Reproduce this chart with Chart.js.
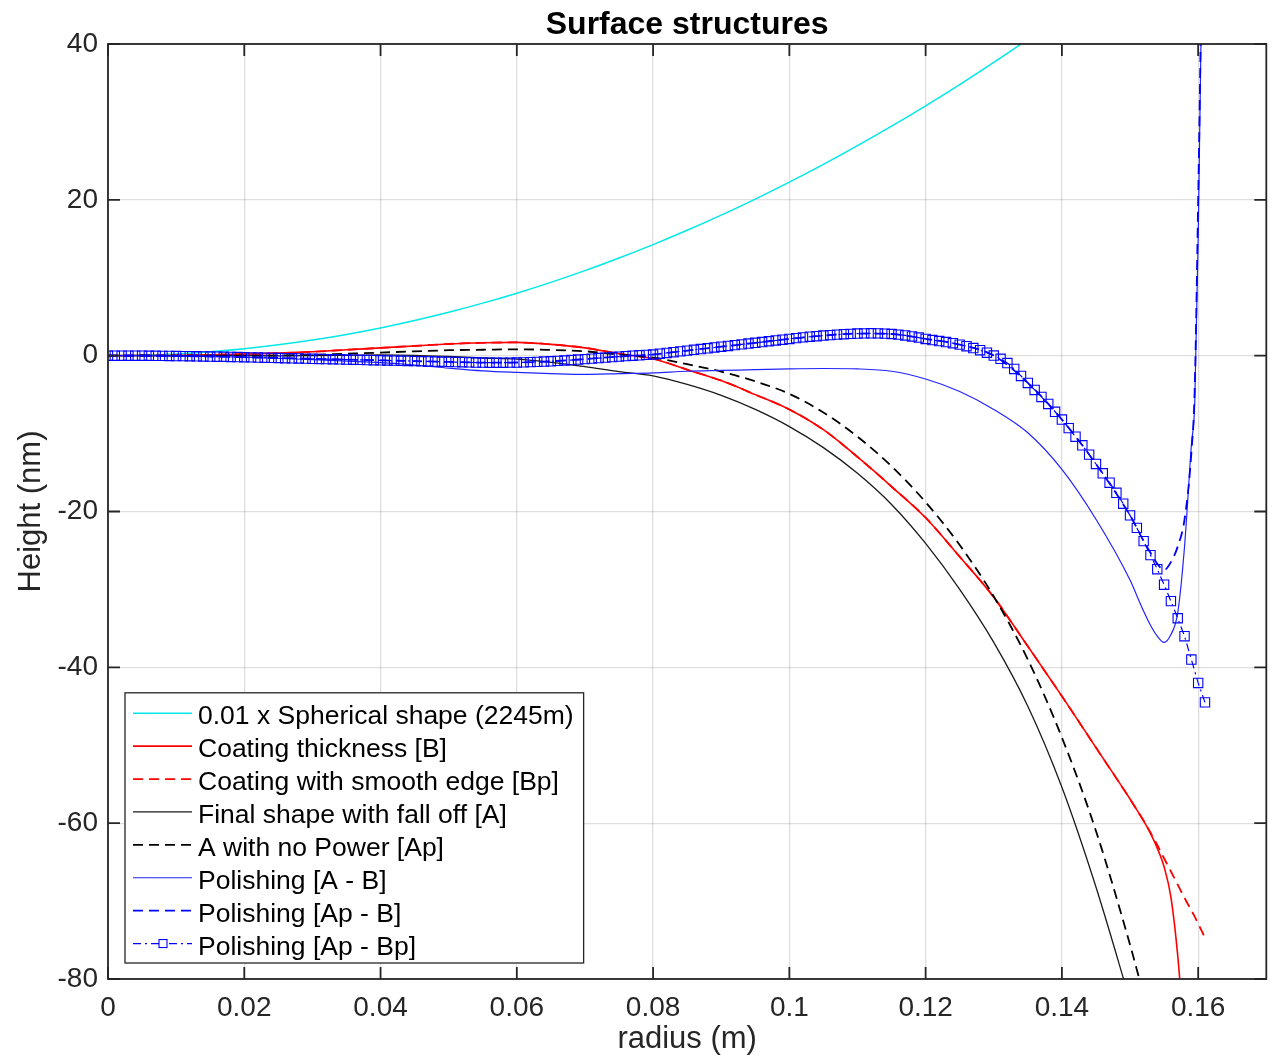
<!DOCTYPE html>
<html>
<head>
<meta charset="utf-8">
<script src="https://cdn.jsdelivr.net/npm/chart.js@4.4.1/dist/chart.umd.min.js"></script>
<style>
  html, body { margin: 0; padding: 0; background: #fff; }
  canvas { display: block; }
</style>
</head>
<body>
<canvas id="chart" width="1274" height="1062"></canvas>
<script>
// radius grid (m) shared by the line series
const radius = [0, 0.005, 0.01, 0.015, 0.02, 0.025, 0.03, 0.035, 0.04, 0.045, 0.05, 0.055, 0.06, 0.065,
  0.07, 0.075, 0.08, 0.085, 0.09, 0.095, 0.1, 0.105, 0.11, 0.115, 0.12, 0.125, 0.13, 0.135, 0.14, 0.145,
  0.15, 0.151, 0.152, 0.153, 0.154, 0.155, 0.156, 0.157, 0.158, 0.159, 0.1595, 0.16, 0.1605, 0.161];

// heights (nm)
const spherical = [0, 0.06, 0.22, 0.5, 0.89, 1.39, 2.0, 2.73, 3.56, 4.51, 5.57, 6.74, 8.02, 9.41,
  10.91, 12.53, 14.25, 16.09, 18.04, 20.1, 22.27, 24.55, 26.95, 29.45, 32.07, 34.8, 37.64, 40.59, 43.65, null,
  null, null, null, null, null, null, null, null, null, null, null, null, null, null];

const coating = [0, 0.02, 0.04, 0.1, 0.2, 0.33, 0.5, 0.75, 1.0, 1.25, 1.5, 1.65, 1.7, 1.45,
  1.0, 0.25, -0.4, -1.8, -3.2, -5.0, -6.9, -9.5, -13.0, -16.8, -20.8, -25.8, -31.0, -37.3, -43.7, -50.3,
  -56.9, -58.3, -59.7, -61.3, -63.2, -65.6, -69.5, -77.0, -88.0, null, null, null, null, null];

const coatingSmooth = [0, 0.02, 0.04, 0.1, 0.2, 0.33, 0.5, 0.75, 1.0, 1.25, 1.5, 1.65, 1.7, 1.45,
  1.0, 0.25, -0.4, -1.8, -3.2, -5.0, -6.9, -9.5, -13.0, -16.8, -20.8, -25.8, -31.0, -37.3, -43.7, -50.3,
  -56.9, -58.3, -59.7, -61.2, -62.8, -64.5, -66.2, -67.9, -69.6, -71.2, -72.0, -72.9, -73.8, -74.7];

const finalShape = [0, 0.02, -0.01, 0, 0, -0.02, 0, 0.05, 0.1, 0.05, -0.1, -0.3, -0.45, -0.85,
  -1.4, -2.05, -2.6, -3.7, -5.1, -6.9, -9.1, -11.8, -15.1, -19.1, -24.1, -30.0, -36.8, -45.0, -55.4, -68.2,
  -82.8, null, null, null, null, null, null, null, null, null, null, null, null, null];

const noPower = [0, 0.02, -0.01, -0.01, 0, 0.03, 0.1, 0.25, 0.4, 0.55, 0.7, 0.76, 0.82, 0.73,
  0.56, 0.13, -0.25, -1.1, -2.05, -3.3, -4.9, -7.3, -10.4, -14.2, -18.8, -24.3, -30.9, -39.0, -49.0, -61.0,
  -75.6, -78.8, -82.1, null, null, null, null, null, null, null, null, null, null, null];

const polishAB = [0, 0, -0.05, -0.1, -0.2, -0.35, -0.5, -0.7, -0.9, -1.2, -1.6, -1.95, -2.15, -2.3,
  -2.4, -2.3, -2.2, -2.0, -1.9, -1.8, -1.7, -1.65, -1.7, -2.0, -3.0, -4.6, -6.9, -9.9, -14.6, -21.0,
  -28.8, -30.8, -32.8, -34.6, -36.0, -36.8, -35.8, -33.0, -24.5, -11.5, -6.0, 15, 46, null];

const polishApB = [0, 0, -0.05, -0.11, -0.2, -0.3, -0.4, -0.5, -0.6, -0.7, -0.8, -0.89, -0.88, -0.72,
  -0.44, -0.12, 0.15, 0.65, 1.15, 1.65, 2.15, 2.58, 2.84, 2.78, 2.15, 1.42, 0.02, -3.5, -8.2, -13.9,
  -20.5, -22.1, -23.8, -25.3, -26.7, -27.5, -26.5, -24.5, -21.0, -12.5, -4.0, 20, 48, null];

// finer radius grid for the marker series
const radiusFine = [0, 0.001, 0.002, 0.003, 0.004, 0.005, 0.006, 0.007, 0.008, 0.009,
  0.01, 0.011, 0.012, 0.013, 0.014, 0.015, 0.016, 0.017, 0.018, 0.019,
  0.02, 0.021, 0.022, 0.023, 0.024, 0.025, 0.026, 0.027, 0.028, 0.029,
  0.03, 0.031, 0.032, 0.033, 0.034, 0.035, 0.036, 0.037, 0.038, 0.039,
  0.04, 0.041, 0.042, 0.043, 0.044, 0.045, 0.046, 0.047, 0.048, 0.049,
  0.05, 0.051, 0.052, 0.053, 0.054, 0.055, 0.056, 0.057, 0.058, 0.059,
  0.06, 0.061, 0.062, 0.063, 0.064, 0.065, 0.066, 0.067, 0.068, 0.069,
  0.07, 0.071, 0.072, 0.073, 0.074, 0.075, 0.076, 0.077, 0.078, 0.079,
  0.08, 0.081, 0.082, 0.083, 0.084, 0.085, 0.086, 0.087, 0.088, 0.089,
  0.09, 0.091, 0.092, 0.093, 0.094, 0.095, 0.096, 0.097, 0.098, 0.099,
  0.1, 0.101, 0.102, 0.103, 0.104, 0.105, 0.106, 0.107, 0.108, 0.109,
  0.11, 0.111, 0.112, 0.113, 0.114, 0.115, 0.116, 0.117, 0.118, 0.119,
  0.12, 0.121, 0.122, 0.123, 0.124, 0.125, 0.126, 0.127, 0.128, 0.129,
  0.13, 0.131, 0.132, 0.133, 0.134, 0.135, 0.136, 0.137, 0.138, 0.139,
  0.14, 0.141, 0.142, 0.143, 0.144, 0.145, 0.146, 0.147, 0.148, 0.149,
  0.15, 0.151, 0.152, 0.153, 0.154, 0.155, 0.156, 0.157, 0.158, 0.159,
  0.16, 0.161];

const polishApBp = [0, 0, 0, 0, 0, 0, -0.01, -0.02, -0.03, -0.04,
  -0.05, -0.06, -0.07, -0.08, -0.1, -0.11, -0.13, -0.14, -0.16, -0.18,
  -0.2, -0.22, -0.24, -0.26, -0.28, -0.3, -0.32, -0.34, -0.36, -0.38,
  -0.4, -0.42, -0.44, -0.46, -0.48, -0.5, -0.52, -0.54, -0.56, -0.58,
  -0.6, -0.62, -0.64, -0.66, -0.68, -0.7, -0.72, -0.74, -0.76, -0.78,
  -0.8, -0.82, -0.84, -0.86, -0.88, -0.89, -0.9, -0.9, -0.9, -0.89,
  -0.88, -0.86, -0.83, -0.8, -0.76, -0.72, -0.67, -0.62, -0.56, -0.5,
  -0.44, -0.38, -0.31, -0.25, -0.18, -0.12, -0.06, 0, 0.05, 0.1,
  0.15, 0.25, 0.35, 0.45, 0.55, 0.65, 0.75, 0.85, 0.95, 1.05,
  1.15, 1.25, 1.35, 1.45, 1.55, 1.65, 1.75, 1.85, 1.95, 2.05,
  2.15, 2.25, 2.35, 2.43, 2.5, 2.58, 2.64, 2.7, 2.75, 2.8,
  2.84, 2.86, 2.87, 2.86, 2.83, 2.78, 2.7, 2.6, 2.47, 2.32,
  2.15, 2.0, 1.88, 1.75, 1.6, 1.42, 1.22, 0.98, 0.7, 0.38,
  0.02, -0.4, -0.95, -1.7, -2.6, -3.5, -4.4, -5.3, -6.2, -7.2,
  -8.2, -9.3, -10.4, -11.5, -12.7, -13.9, -15.1, -16.3, -17.6, -19.0,
  -20.5, -22.1, -23.8, -25.6, -27.4, -29.4, -31.5, -33.7, -36.0, -39.0,
  -42.0, -44.5];

const xTicks = [0, 0.02, 0.04, 0.06, 0.08, 0.1, 0.12, 0.14, 0.16];
const yTicks = [-80, -60, -40, -20, 0, 20, 40];

const FONT = '"Liberation Sans", Arial, Helvetica, sans-serif';
const AXIS_COLOR = '#262626';
const GRID_COLOR = 'rgba(0,0,0,0.13)';

const series = [
  { label: '0.01 x Spherical shape (2245m)', x: radius, y: spherical, color: 'rgb(0,232,232)', width: 1.5, dash: [] },
  { label: 'Coating thickness [B]', x: radius, y: coating, color: '#ff0000', width: 1.6, dash: [] },
  { label: 'Coating with smooth edge [Bp]', x: radius, y: coatingSmooth, color: '#ff0000', width: 1.8, dash: [10, 6] },
  { label: 'Final shape with fall off [A]', x: radius, y: finalShape, color: '#1a1a1a', width: 1.3, dash: [] },
  { label: 'A with no Power [Ap]', x: radius, y: noPower, color: '#000000', width: 1.8, dash: [10, 6] },
  { label: 'Polishing [A - B]', x: radius, y: polishAB, color: '#2323ff', width: 1.2, dash: [] },
  { label: 'Polishing [Ap - B]', x: radius, y: polishApB, color: '#0000ff', width: 1.8, dash: [10, 6] },
  { label: 'Polishing [Ap - Bp]', x: radiusFine, y: polishApBp, color: '#0000ff', width: 1.2, dash: [8, 4, 2, 4], marker: true }
];

const datasets = series.map((s, i) => ({
  label: s.label,
  data: s.x.map((r, k) => ({ x: r, y: s.y[k] })),
  borderColor: s.color,
  borderWidth: s.width,
  borderDash: s.dash,
  fill: false,
  spanGaps: false,
  cubicInterpolationMode: s.marker ? 'default' : 'monotone',
  tension: 0,
  pointRadius: s.marker ? 6.6 : 0,
  pointStyle: 'rect',
  pointBorderColor: s.color,
  pointBackgroundColor: 'rgba(0,0,0,0)',
  pointBorderWidth: 1.1,
  order: series.length - 1 - i
}));

// MATLAB style box, inward ticks, title and legend
const matlabAxes = {
  id: 'matlabAxes',
  afterDatasetsDraw(chart) {
    const { ctx, chartArea: a, scales } = chart;
    const x = scales.x, y = scales.y;
    ctx.save();
    ctx.strokeStyle = AXIS_COLOR;
    ctx.lineWidth = 1.8;
    ctx.setLineDash([]);
    ctx.beginPath();
    xTicks.forEach(v => {
      const px = x.getPixelForValue(v);
      ctx.moveTo(px, a.bottom); ctx.lineTo(px, a.bottom - 12);
      ctx.moveTo(px, a.top); ctx.lineTo(px, a.top + 12);
    });
    yTicks.forEach(v => {
      const py = y.getPixelForValue(v);
      ctx.moveTo(a.left, py); ctx.lineTo(a.left + 12, py);
      ctx.moveTo(a.right, py); ctx.lineTo(a.right - 12, py);
    });
    ctx.stroke();
    ctx.strokeRect(a.left, a.top, a.right - a.left, a.bottom - a.top);

    // title
    ctx.fillStyle = '#000';
    ctx.font = 'bold 32px ' + FONT;
    ctx.textAlign = 'center';
    ctx.textBaseline = 'alphabetic';
    ctx.fillText('Surface structures', (a.left + a.right) / 2, 33.5);

    // legend
    const fontSize = 26.5;
    ctx.font = fontSize + 'px ' + FONT;
    const rowH = 32.9;
    const maxText = Math.max(...series.map(s => ctx.measureText(s.label).width));
    const boxL = a.left + 17;
    const boxW = 73 + maxText + 10;
    const boxH = series.length * rowH + 7;
    const boxB = a.bottom - 16;
    const boxT = boxB - boxH;
    ctx.fillStyle = '#fff';
    ctx.fillRect(boxL, boxT, boxW, boxH);
    ctx.lineWidth = 1.3;
    ctx.strokeStyle = AXIS_COLOR;
    ctx.strokeRect(boxL, boxT, boxW, boxH);

    series.forEach((s, i) => {
      const cy = boxT + 5.5 + rowH * (i + 0.5);
      const ly = cy - 1.5;
      ctx.strokeStyle = s.color;
      ctx.lineWidth = s.width;
      ctx.setLineDash(s.dash);
      ctx.beginPath();
      ctx.moveTo(boxL + 8, ly);
      ctx.lineTo(boxL + 67, ly);
      ctx.stroke();
      ctx.setLineDash([]);
      if (s.marker) {
        ctx.lineWidth = 1.1;
        ctx.fillStyle = '#fff';
        ctx.fillRect(boxL + 34, ly - 4, 8, 8);
        ctx.strokeRect(boxL + 34, ly - 4, 8, 8);
      }
      ctx.fillStyle = '#000';
      ctx.textAlign = 'left';
      ctx.textBaseline = 'alphabetic';
      ctx.fillText(s.label, boxL + 73, cy + 0.358 * fontSize);
    });
    ctx.restore();
  }
};

new Chart(document.getElementById('chart'), {
  type: 'line',
  data: { datasets: datasets },
  plugins: [matlabAxes],
  options: {
    responsive: false,
    animation: false,
    events: [],
    layout: { padding: { top: 44, right: 1, bottom: 0, left: 0 } },
    plugins: {
      legend: { display: false },
      title: { display: false },
      tooltip: { enabled: false }
    },
    scales: {
      x: {
        type: 'linear',
        min: 0,
        max: 0.17,
        afterBuildTicks: s => { s.ticks = xTicks.map(v => ({ value: v })); },
        afterFit: s => { s.height = 83; },
        grid: { color: GRID_COLOR, lineWidth: 1.3, drawTicks: false },
        border: { display: false },
        ticks: {
          padding: 12,
          autoSkip: false,
          maxRotation: 0,
          color: AXIS_COLOR,
          font: { family: FONT, size: 28 },
          callback: v => String(v)
        },
        title: {
          display: true,
          text: 'radius (m)',
          color: AXIS_COLOR,
          font: { family: FONT, size: 31 },
          padding: { top: 0, bottom: 4 }
        }
      },
      y: {
        type: 'linear',
        min: -80,
        max: 40,
        afterBuildTicks: s => { s.ticks = yTicks.map(v => ({ value: v })); },
        afterFit: s => { s.width = 108; },
        grid: { color: GRID_COLOR, lineWidth: 1.3, drawTicks: false },
        border: { display: false },
        ticks: {
          padding: 10,
          autoSkip: false,
          color: AXIS_COLOR,
          font: { family: FONT, size: 28 },
          callback: v => String(v)
        },
        title: {
          display: true,
          text: 'Height (nm)',
          color: AXIS_COLOR,
          font: { family: FONT, size: 31 },
          padding: { top: 13, bottom: 0 }
        }
      }
    }
  }
});
</script>
</body>
</html>
